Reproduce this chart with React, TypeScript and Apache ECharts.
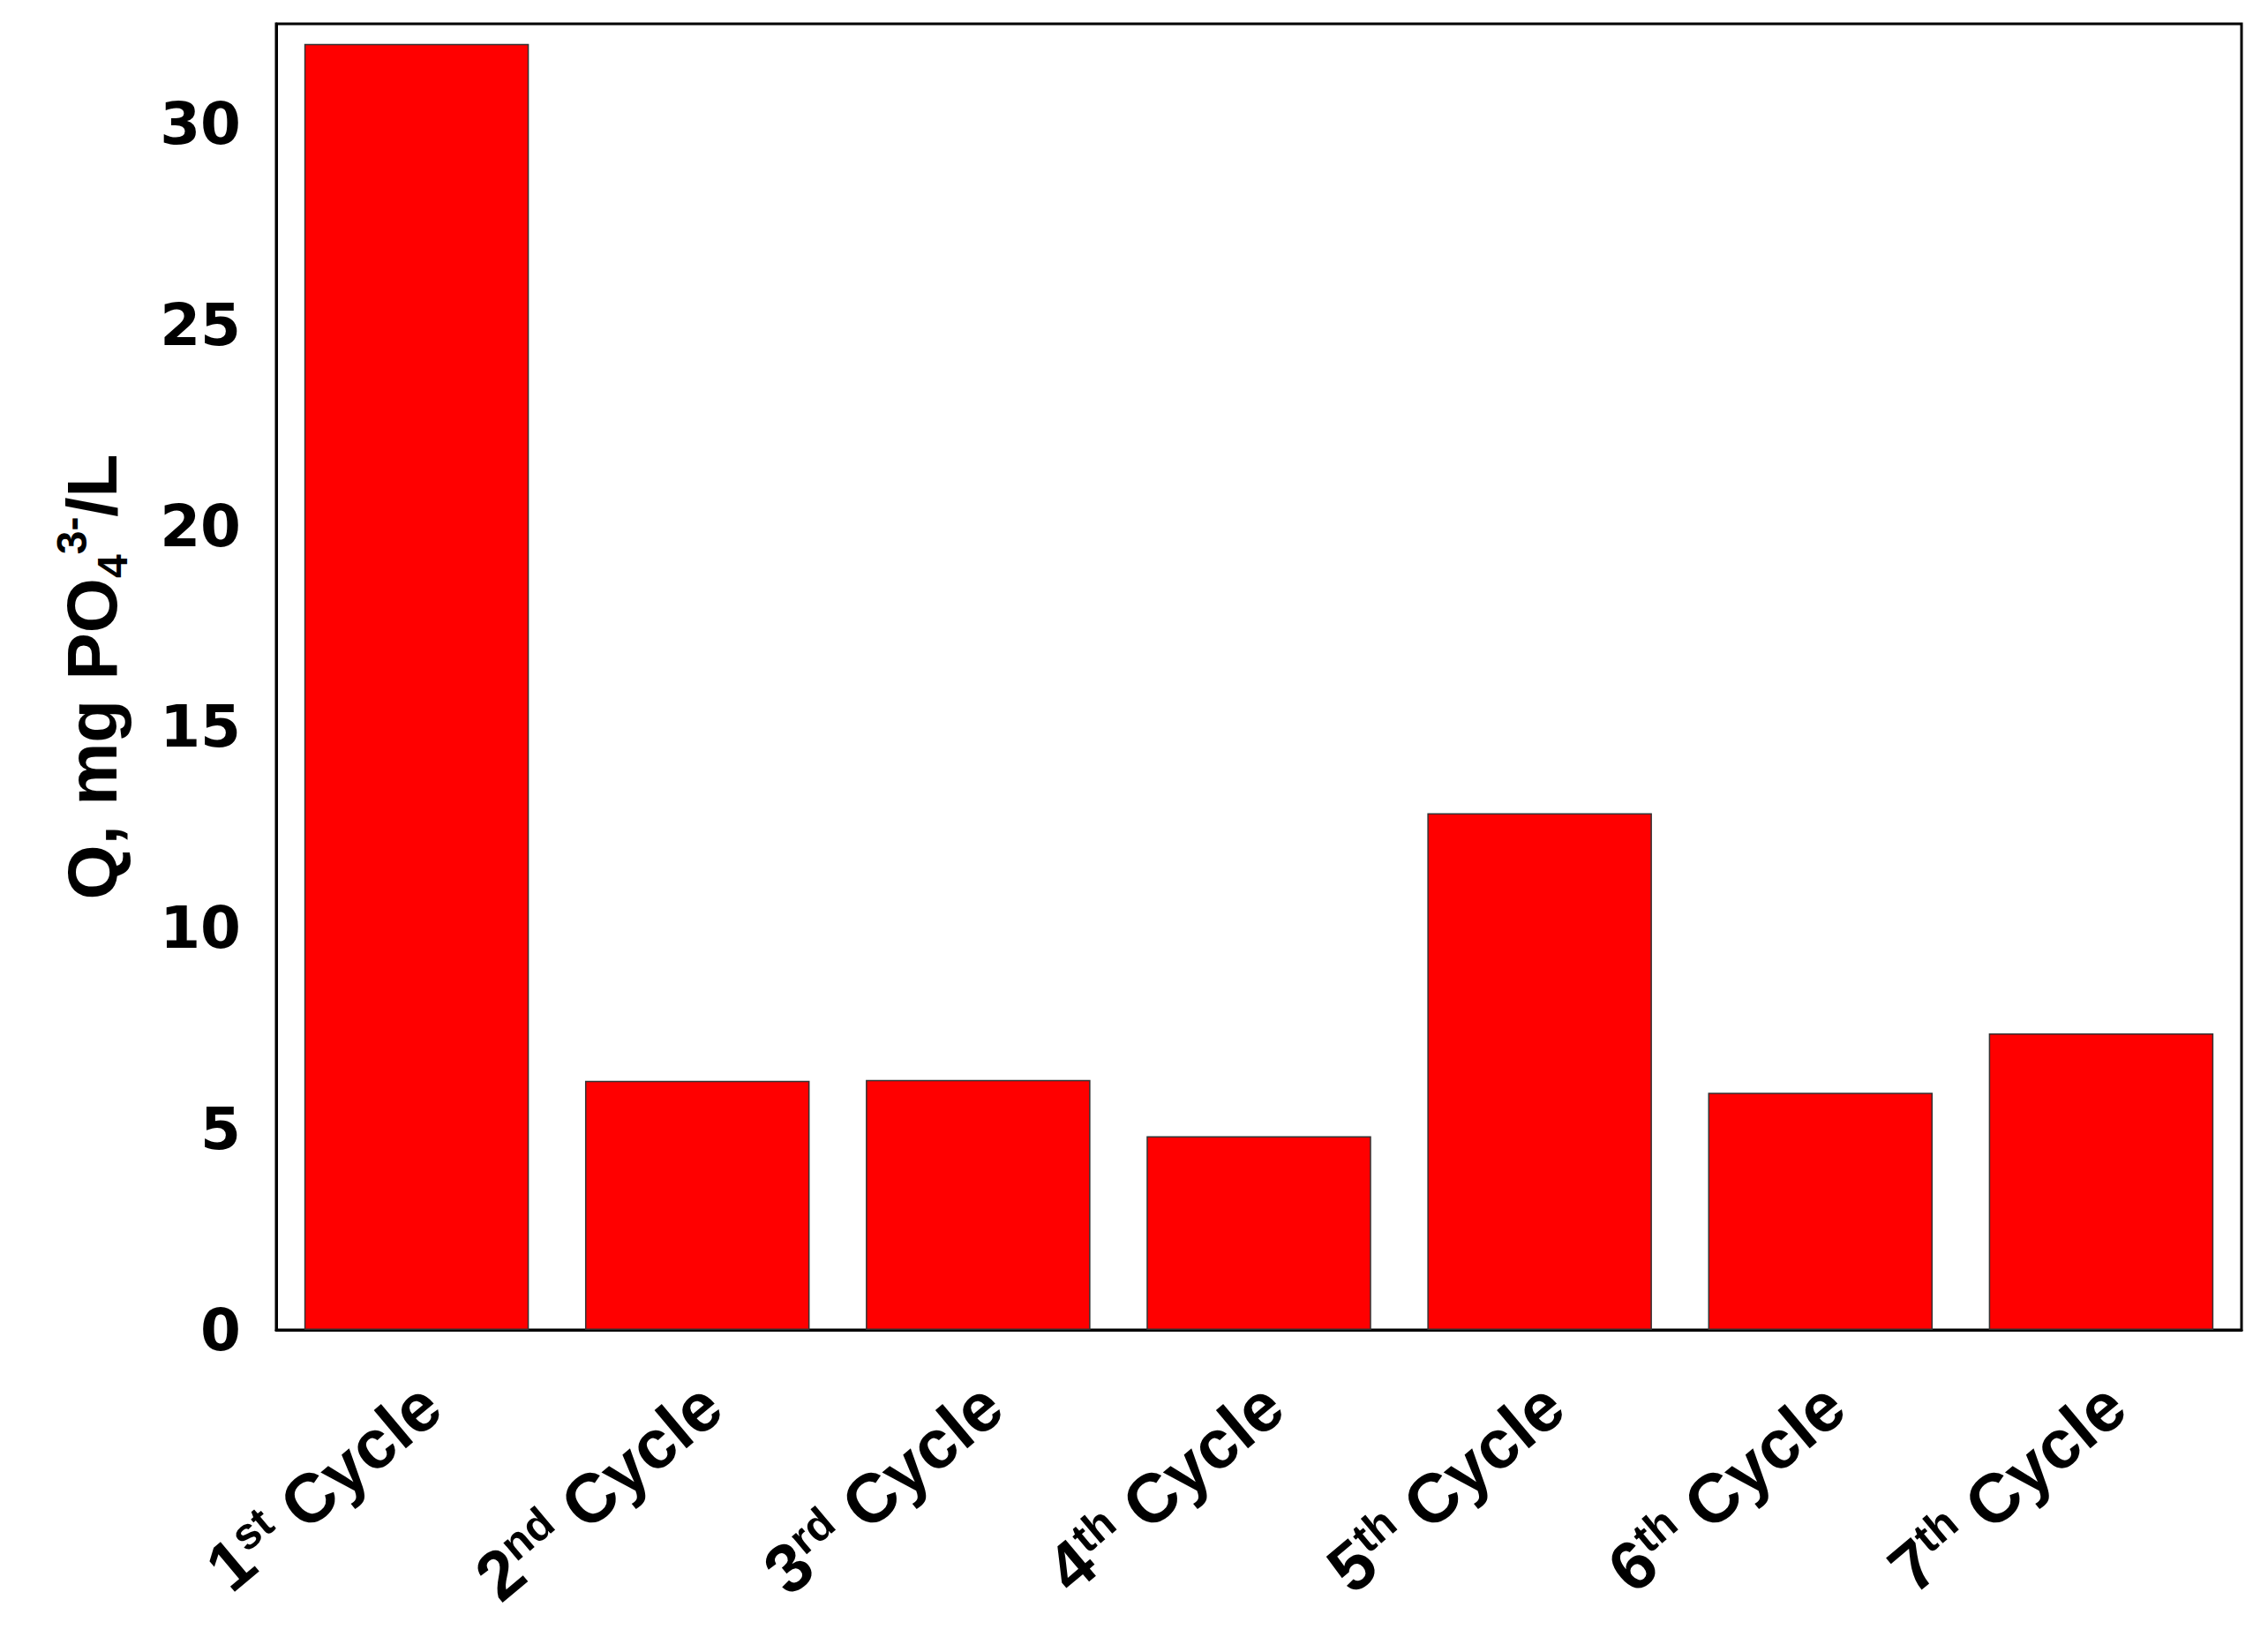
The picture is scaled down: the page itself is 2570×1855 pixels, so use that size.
import { useEffect, useRef } from 'react';
import * as echarts from 'echarts';

const cycleNumbers = ['1', '2', '3', '4', '5', '6', '7'];
const cycleSuffixes = ['st', 'nd', 'rd', 'th', 'th', 'th', 'th'];
const categories = cycleNumbers.map((n, i) => `${n}${cycleSuffixes[i]} Cycle`);
const qValues = [32.0, 6.2, 6.22, 4.82, 12.86, 5.9, 7.38];
const yTicks = [0, 5, 10, 15, 20, 25, 30];

const FONT = '"Liberation Sans", Arial, sans-serif';
const WIDE_FONT = '"DejaVu Sans", "Liberation Sans", sans-serif';

export default function App() {
  const chartRef = useRef<HTMLDivElement>(null);

  useEffect(() => {
    document.body.style.margin = '0';
    if (!chartRef.current) return;
    const chart = echarts.init(chartRef.current, undefined, { renderer: 'svg' });

    chart.setOption({
      animation: false,
      backgroundColor: '#fff',
      grid: {
        left: 313,
        right: 30,
        top: 27,
        bottom: 348,
        show: true,
        borderColor: '#000',
        borderWidth: 3,
        containLabel: false,
      },
      xAxis: {
        type: 'category',
        data: categories,
        axisLine: { lineStyle: { color: '#000', width: 3 } },
        axisTick: { show: false },
        axisLabel: {
          rotate: 40,
          margin: 56,
          padding: [50, 0, 0, 0],
          interval: 0,
          formatter: (_: string, idx: number) =>
            `{n|${cycleNumbers[idx]}}{s|${cycleSuffixes[idx]}}{n| Cycle}`,
          rich: {
            n: { fontFamily: FONT, fontWeight: 'bold', fontSize: 78, color: '#000', lineHeight: 80 },
            s: {
              fontFamily: FONT,
              fontWeight: 'bold',
              fontSize: 50,
              color: '#000',
              lineHeight: 80,
              verticalAlign: 'top',
            },
          },
        },
      },
      yAxis: {
        type: 'value',
        min: 0,
        max: 32.5,
        interval: 5,
        name: '{n|Q, mg PO}{sub|4}{sup|3-}{n|/L}',
        nameLocation: 'middle',
        nameRotate: 90,
        nameGap: 162,
        nameTextStyle: {
          rich: {
            n: { fontFamily: FONT, fontWeight: 'bold', fontSize: 80, color: '#000', lineHeight: 94 },
            sub: {
              fontFamily: FONT,
              fontWeight: 'bold',
              fontSize: 48,
              color: '#000',
              lineHeight: 94,
              verticalAlign: 'bottom',
            },
            sup: {
              fontFamily: FONT,
              fontWeight: 'bold',
              fontSize: 48,
              color: '#000',
              lineHeight: 94,
              verticalAlign: 'top',
            },
          },
        },
        axisLine: { show: true, lineStyle: { color: '#000', width: 3 } },
        axisTick: { show: false },
        splitLine: { show: false },
        axisLabel: {
          showMaxLabel: false,
          margin: 40,
          fontFamily: WIDE_FONT,
          fontWeight: 'bold',
          fontSize: 66,
          color: '#000',
          formatter: (v: number) => (yTicks.includes(v) ? String(v) : ''),
        },
      },
      series: [
        {
          type: 'bar',
          data: qValues,
          barWidth: '80%',
          itemStyle: { color: '#ff0000', borderColor: '#333', borderWidth: 1.5 },
        },
      ],
    });

    const resize = () => chart.resize();
    window.addEventListener('resize', resize);
    return () => {
      window.removeEventListener('resize', resize);
      chart.dispose();
    };
  }, []);

  return <div ref={chartRef} style={{ width: 2570, height: 1855 }} />;
}
